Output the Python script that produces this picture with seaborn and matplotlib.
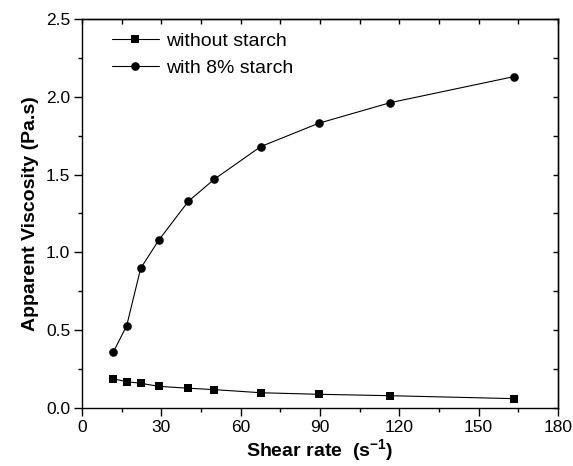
import matplotlib
matplotlib.use("Agg")
import matplotlib.pyplot as plt
from matplotlib.ticker import MultipleLocator, FormatStrFormatter
import seaborn as sns
import pandas as pd

# Shear rate (s^-1) and apparent viscosity (Pa.s)
shear_rate = [11.8, 16.9, 22.2, 29.0, 40.2, 50.0, 67.6, 89.5, 116.5, 163.4]
visc_plain = [0.188, 0.169, 0.159, 0.139, 0.127, 0.118, 0.098, 0.088, 0.079, 0.060]
visc_starch = [0.358, 0.529, 0.898, 1.078, 1.328, 1.470, 1.680, 1.830, 1.962, 2.130]
series_names = ["without starch", "with 8% starch"]

df = pd.DataFrame({
    "rate": shear_rate * 2,
    "visc": visc_plain + visc_starch,
    "series": [series_names[0]] * len(shear_rate) + [series_names[1]] * len(shear_rate),
})

sns.set_theme(style="ticks")
plt.rcParams["font.family"] = ["Liberation Sans", "DejaVu Sans"]
plt.rcParams["mathtext.default"] = "regular"
plt.rcParams["text.color"] = "black"
plt.rcParams["axes.labelcolor"] = "black"
plt.rcParams["xtick.color"] = "black"
plt.rcParams["ytick.color"] = "black"

fig = plt.figure(figsize=(5.73, 4.66), dpi=100)
ax = fig.add_axes([0.1431, 0.1245, 0.8307, 0.8347])

markers = {"without starch": "s", "with 8% starch": "o"}
sizes = {"without starch": 5.4, "with 8% starch": 6.2}
for name in series_names:
    sub = df[df["series"] == name]
    sns.lineplot(data=sub, x="rate", y="visc", ax=ax, color="black",
                 marker=markers[name], markersize=sizes[name],
                 markeredgewidth=0, linewidth=0.8, label=name,
                 estimator=None, sort=False)

ax.set_xlim(0, 180)
ax.set_ylim(0, 2.5)
ax.xaxis.set_major_locator(MultipleLocator(30))
ax.xaxis.set_minor_locator(MultipleLocator(15))
ax.yaxis.set_major_locator(MultipleLocator(0.5))
ax.yaxis.set_minor_locator(MultipleLocator(0.25))
ax.yaxis.set_major_formatter(FormatStrFormatter("%.1f"))

for sp in ax.spines.values():
    sp.set_visible(True)
    sp.set_color("black")
    sp.set_linewidth(1.0)

ax.tick_params(which="major", direction="out", length=5.5, width=1.0,
               labelsize=12.5, colors="black", labelcolor="black", pad=3)
ax.tick_params(which="minor", direction="out", length=3, width=1.0, colors="black")

# Inward ticks on the top and right edges
top = ax.secondary_xaxis("top")
top.xaxis.set_major_locator(MultipleLocator(15))
top.tick_params(direction="in", length=3.6, width=1.0, labeltop=False, colors="black")
top.spines["top"].set_linewidth(1.0)
right = ax.secondary_yaxis("right")
right.yaxis.set_major_locator(MultipleLocator(0.25))
right.tick_params(direction="in", length=3.6, width=1.0, labelright=False, colors="black")
right.spines["right"].set_linewidth(1.0)

ax.set_xlabel("Shear rate  (s$^{\\mathregular{-1}}$)", fontsize=14, fontweight="bold",
              labelpad=2, color="black")
ax.set_ylabel("Apparent Viscosity (Pa.s)", fontsize=14, fontweight="bold",
              labelpad=5, color="black")

ax.legend(loc="upper left", bbox_to_anchor=(0.063, 0.965), frameon=False,
          fontsize=14, handlelength=2.4, handletextpad=0.4, labelspacing=0.45,
          borderpad=0, borderaxespad=0)

fig.savefig("out.png", dpi=100)
